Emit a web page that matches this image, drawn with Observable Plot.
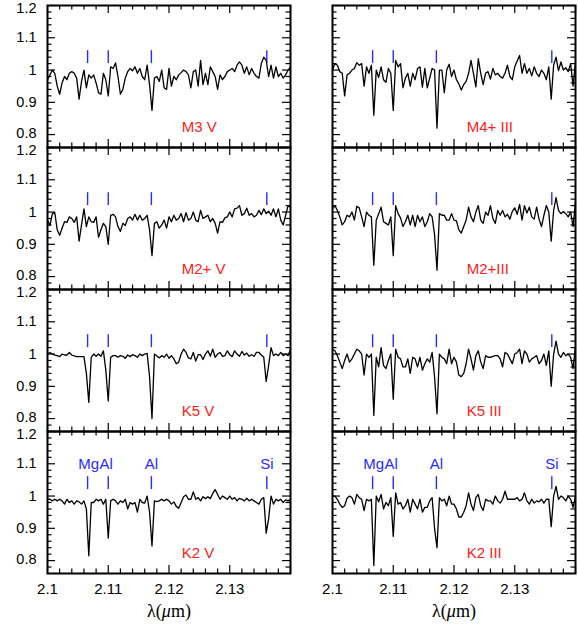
<!DOCTYPE html>
<html><head><meta charset="utf-8">
<script src="https://cdn.jsdelivr.net/npm/d3@7"></script>
<script src="https://cdn.jsdelivr.net/npm/@observablehq/plot@0.6"></script>
<style>
body{margin:0;background:#fff}
#chart{position:relative;width:578px;height:625px;overflow:hidden;background:#fff}
#chart svg{position:absolute;overflow:visible;background:transparent}
</style></head><body><div id="chart"></div>
<script>
// ---- data ----
const wavelengthStart = 2.1, wavelengthStep = 0.0004;
const panelNames = [["M3 V", "M4+ III"], ["M2+ V", "M2+III"], ["K5 V", "K5 III"], ["K2 V", "K2 III"]];
const fluxM3V = [0.970,0.985,1.000,0.990,0.950,0.925,0.960,0.980,0.970,0.990,
0.995,0.990,0.975,0.910,0.965,1.000,0.945,0.985,0.975,0.985,
0.960,0.930,0.925,0.990,0.970,0.920,1.010,1.005,1.022,0.980,
0.925,0.940,0.975,0.995,1.005,0.998,1.010,0.990,1.005,0.980,
0.970,1.015,0.955,0.875,0.975,0.980,0.965,1.000,0.945,0.940,
1.005,0.950,0.980,0.970,0.985,0.992,1.000,0.995,0.985,0.945,
0.995,1.000,0.950,1.030,0.955,0.990,0.955,1.010,0.995,0.980,
0.940,0.985,0.970,0.980,0.995,1.000,1.005,0.995,1.015,1.025,
1.015,0.990,1.010,0.985,1.005,0.990,0.980,0.975,1.020,1.040,
1.030,0.980,1.015,0.975,1.010,0.980,0.990,0.975,0.985,1.000,1.010];
const fluxM4III = [1.000,1.020,1.015,0.995,0.990,0.920,0.985,0.990,1.000,1.005,
1.023,1.015,1.020,0.950,1.010,0.990,1.015,0.860,1.000,0.977,
1.010,0.970,0.962,1.005,0.990,0.875,1.030,1.010,1.020,0.945,
0.975,0.990,0.950,0.990,0.970,1.005,1.010,0.947,1.005,0.945,
0.975,1.005,1.000,0.820,1.000,1.000,0.930,1.000,1.018,0.980,
1.000,0.970,0.957,0.938,0.955,0.965,0.990,1.030,0.990,0.948,
1.035,0.990,0.955,0.990,0.995,0.972,1.005,0.985,0.990,0.980,
0.975,0.990,1.015,0.980,0.970,1.010,1.028,1.045,0.990,1.020,
0.990,1.005,0.982,1.010,0.990,0.980,1.000,0.990,0.970,1.010,
0.910,1.015,1.040,0.998,1.025,1.000,1.007,0.995,1.020,0.950,1.025];
const fluxM2V = [0.975,0.958,0.995,0.998,0.945,0.928,0.950,0.970,0.968,0.985,
0.980,0.968,0.985,0.910,0.960,1.010,0.955,0.985,0.970,0.968,
0.985,0.922,0.945,0.965,0.955,0.900,0.990,0.993,0.985,0.955,
0.940,0.965,0.958,0.980,0.985,0.975,0.993,0.975,0.990,0.975,
0.980,0.990,0.945,0.865,0.965,0.970,0.950,0.960,0.975,0.950,
0.985,0.970,0.990,0.975,0.980,0.995,0.970,0.998,0.975,0.980,
1.000,0.975,0.970,1.005,0.980,0.985,0.990,0.970,0.980,0.965,
0.935,0.970,0.968,0.982,0.985,1.000,0.985,1.010,1.012,1.020,
0.990,0.995,1.012,0.990,0.995,0.985,0.990,1.005,0.992,1.010,
0.995,1.003,0.990,1.010,0.985,1.010,0.975,0.960,0.990,1.020,1.015];
const fluxM2III = [1.010,1.020,1.005,0.985,0.960,0.970,0.990,0.985,1.000,0.975,
1.018,1.013,0.985,0.955,1.000,0.990,0.985,0.835,0.975,0.995,
1.015,0.970,0.965,0.960,0.985,0.865,1.020,0.995,0.982,0.955,
0.970,0.990,0.960,0.990,0.955,0.990,0.970,0.985,0.955,0.970,
0.995,0.985,0.930,0.820,0.995,0.990,0.990,0.975,0.975,0.995,
0.975,0.973,0.945,0.935,0.955,0.975,1.015,0.985,0.970,1.000,
1.020,0.975,0.965,1.000,0.990,1.020,0.980,0.965,1.005,0.990,
1.005,0.985,0.993,0.978,1.002,1.013,0.993,1.024,0.975,1.020,
0.997,1.015,0.985,0.978,1.015,0.978,0.955,0.990,1.020,1.000,
0.910,1.005,1.045,1.005,0.995,1.002,0.995,0.985,1.000,0.955,1.030];
const fluxK5V = [1.000,1.005,1.000,0.997,0.995,0.992,1.000,0.997,0.997,1.005,
0.997,0.994,0.992,0.992,0.992,0.992,0.940,0.850,0.990,1.000,
0.993,1.000,0.993,1.010,0.950,0.855,0.990,0.995,0.995,0.990,
0.995,0.993,0.987,0.997,0.992,0.998,0.995,0.990,1.000,0.995,
1.000,1.002,0.930,0.800,1.000,0.994,0.988,0.995,0.990,1.000,
0.987,0.995,0.985,0.970,0.975,1.000,1.015,1.005,0.988,0.985,
1.005,0.978,0.998,0.998,0.983,1.000,1.010,0.993,1.015,0.990,
1.000,1.005,0.993,0.995,1.010,0.998,0.992,1.010,1.000,0.993,
1.008,0.997,1.003,0.993,0.998,0.993,1.005,1.005,0.997,0.990,
0.915,0.965,1.020,0.995,1.000,0.995,1.005,0.995,1.000,0.995,1.015];
const fluxK5III = [1.015,1.010,0.995,0.975,0.955,0.980,1.000,0.975,0.985,1.000,
1.015,1.010,1.000,0.935,1.000,0.990,1.000,0.810,0.990,0.960,
1.020,0.965,0.955,0.980,1.000,0.860,1.015,0.990,0.985,0.960,
0.960,0.985,0.940,0.990,0.985,0.960,0.990,0.950,0.970,0.985,
0.975,1.005,0.930,0.815,1.000,0.990,0.985,0.970,1.015,0.970,
0.990,0.975,0.935,0.930,0.940,0.970,1.015,0.985,0.950,0.995,
1.010,0.975,0.955,0.995,0.990,0.990,0.993,0.995,0.995,0.985,
0.960,1.005,1.000,0.985,0.970,1.000,1.005,1.015,0.970,1.010,
1.000,0.975,0.985,0.990,0.995,0.970,0.980,1.000,0.965,1.010,
0.900,1.000,1.040,1.000,0.990,1.005,0.995,1.000,0.990,0.955,1.025];
const fluxK2V = [0.990,0.990,0.985,0.990,0.985,0.990,0.985,0.975,0.990,0.980,
0.985,0.975,0.985,0.982,0.975,0.985,0.960,0.815,0.980,0.980,
0.990,0.985,0.990,0.975,0.990,0.870,0.985,0.990,0.985,0.975,
0.985,0.980,0.990,0.960,0.980,0.975,0.980,0.950,0.990,0.980,
0.978,1.000,0.950,0.845,0.985,0.983,0.985,0.990,0.985,0.990,
0.985,0.975,0.982,0.968,0.962,0.980,0.998,1.003,0.990,0.990,
1.013,0.990,0.995,0.985,0.998,0.992,0.998,0.992,1.008,1.020,
1.005,0.990,1.000,0.995,0.990,1.000,0.990,0.995,0.985,0.993,
0.990,0.985,0.993,0.985,0.990,0.985,0.980,0.975,0.990,0.995,
0.885,0.930,1.000,0.975,0.990,0.985,0.990,0.980,0.988,0.985,0.990];
const fluxK2III = [1.000,1.000,0.990,0.975,0.965,0.970,0.993,1.000,0.995,0.975,
1.005,0.995,0.990,0.955,0.990,0.985,0.990,0.785,1.000,0.982,
1.005,0.960,0.980,0.970,0.995,0.875,1.010,0.975,0.980,0.960,
0.970,0.990,0.950,0.990,0.975,0.960,0.990,0.950,0.965,0.965,
0.985,0.995,0.900,0.840,0.995,0.985,0.990,0.970,1.000,0.975,
0.975,0.960,0.935,0.935,0.950,0.970,1.010,0.975,0.955,0.995,
1.005,0.970,0.955,0.990,0.985,0.985,0.975,1.000,0.985,0.978,
0.990,1.015,0.990,0.990,0.990,0.990,0.995,0.985,0.990,1.010,
0.985,0.975,0.990,0.978,0.985,0.982,0.990,0.978,0.990,0.990,
0.905,1.000,1.030,0.990,1.000,0.995,0.985,1.000,0.990,0.965,1.000];
const panelFlux = [[fluxM3V, fluxM4III], [fluxM2V, fluxM2III], [fluxK5V, fluxK5III], [fluxK2V, fluxK2III]];

const lineWavelengths = [2.1066, 2.1100, 2.1171, 2.1361];
const lineLabels = ["Mg", "Al", "Al", "Si"];
const xTicks = [2.1, 2.11, 2.12, 2.13];
const xTickLabels = ["2.1", "2.11", "2.12", "2.13"];
const yTicks = [0.8, 0.9, 1.0, 1.1, 1.2];
const yTickLabels = ["0.8", "0.9", "1", "1.1", "1.2"];
const xTitle = "λ(μm)";

// ---- layout ----
const xDomain = [2.1, 2.14], yDomain = [0.76, 1.2];
const xMajor = [2.1, 2.11, 2.12, 2.13, 2.14];
const xMinor = d3.range(1, 20).map(k => 2.1 + k * 0.002).filter((d, k) => (k + 1) % 5 !== 0);
const yMajor = [0.8, 0.9, 1.0, 1.1, 1.2];
const yMinor = d3.range(0, 22).map(k => 0.78 + k * 0.02).filter(d => Math.abs(d * 10 - Math.round(d * 10)) > 1e-6);
const markerRange = [1.02, 1.06];
const lineLabelY = 1.1;
const lineLabelDx = [1, -2, 0, 0];
const yLabelDy = [-1, 0, 0, 0, 3];
const nameX = 2.1221, nameY = 0.823;

const PW = 243, PH = 142;
const panelLeft = [47, 332];
const panelTop = r => 5 + r * 142;

const chart = document.getElementById("chart");

for (let r = 0; r < 4; r++) {
  for (let c = 0; c < 2; c++) {
    const flux = panelFlux[r][c];
    const data = flux.map((f, i) => ({w: wavelengthStart + i * wavelengthStep, f}));
    const ml = 46, mr = 4, mt = 6, mb = r === 3 ? 56 : 4;
    const bigT = 8, smallT = 4.5;
    const marks = [
      Plot.tickY(yMajor, {y: d => d, insetRight: PW - bigT, stroke: "black", strokeWidth: 1.2}),
      Plot.tickY(yMajor, {y: d => d, insetLeft: PW - bigT, stroke: "black", strokeWidth: 1.2}),
      Plot.tickY(yMinor, {y: d => d, insetRight: PW - smallT, stroke: "black", strokeWidth: 1.2}),
      Plot.tickY(yMinor, {y: d => d, insetLeft: PW - smallT, stroke: "black", strokeWidth: 1.2}),
      Plot.tickX(xMajor, {x: d => d, insetTop: PH - bigT, stroke: "black", strokeWidth: 1.2}),
      Plot.tickX(xMajor, {x: d => d, insetBottom: PH - bigT, stroke: "black", strokeWidth: 1.2}),
      Plot.tickX(xMinor, {x: d => d, insetTop: PH - smallT, stroke: "black", strokeWidth: 1.2}),
      Plot.tickX(xMinor, {x: d => d, insetBottom: PH - smallT, stroke: "black", strokeWidth: 1.2}),
      Plot.ruleX(lineWavelengths, {x: d => d, y1: markerRange[0], y2: markerRange[1], stroke: "#2a2aff", strokeWidth: 1.4}),
      Plot.line(data, {x: "w", y: "f", stroke: "black", strokeWidth: 1.3}),
      Plot.text([panelNames[r][c]], {x: nameX, y: nameY, text: d => d, textAnchor: "start", fill: "#ff2020", fontSize: 15}),
      Plot.frame({stroke: "black", strokeWidth: 2})
    ];
    if (r === 3) {
      lineLabels.forEach((lab, k) => {
        marks.push(Plot.text([lab], {x: [lineWavelengths[k]], y: lineLabelY, text: d => d, dx: lineLabelDx[k], fill: "#2a2aff", fontSize: 15}));
      });
      marks.push(Plot.axisX(xTicks, {anchor: "bottom", tickSize: 0, tickPadding: 10, label: null,
        tickFormat: d => xTickLabels[xTicks.indexOf(d)], fontSize: 15}));
      marks.push(Plot.text([xTitle], {frameAnchor: "bottom", dy: 43, text: d => d, fontFamily: "Liberation Serif, serif", fontSize: 18, fill: "black"}));
    }
    if (c === 0) {
      yTicks.forEach((t, k) => {
        marks.push(Plot.axisY([t], {anchor: "left", tickSize: 0, tickPadding: 11, label: null, dy: yLabelDy[k],
          tickFormat: () => yTickLabels[k], fontSize: 14.5}));
      });
    }
    const plot = Plot.plot({
      width: ml + PW + mr,
      height: mt + PH + mb,
      marginLeft: ml, marginRight: mr, marginTop: mt, marginBottom: mb,
      x: {domain: xDomain, ...(r === 3 ? {} : {axis: null})},
      y: {domain: yDomain, ...(c === 0 ? {} : {axis: null})},
      style: {background: "transparent", fontFamily: "Liberation Sans, Arial, sans-serif", fontSize: "15px", color: "black", overflow: "visible"},
      marks
    });
    plot.style.left = (panelLeft[c] - ml) + "px";
    plot.style.top = (panelTop(r) - mt) + "px";
    plot.style.maxWidth = "none";
    chart.appendChild(plot);
  }
}

// italic mu in the axis title
d3.selectAll("#chart text").each(function () {
  if (this.textContent === xTitle) {
    const t = d3.select(this);
    t.text(null);
    t.append("tspan").text("λ(");
    t.append("tspan").attr("font-style", "italic").text("μ");
    t.append("tspan").text("m)");
  }
});
</script></body></html>
